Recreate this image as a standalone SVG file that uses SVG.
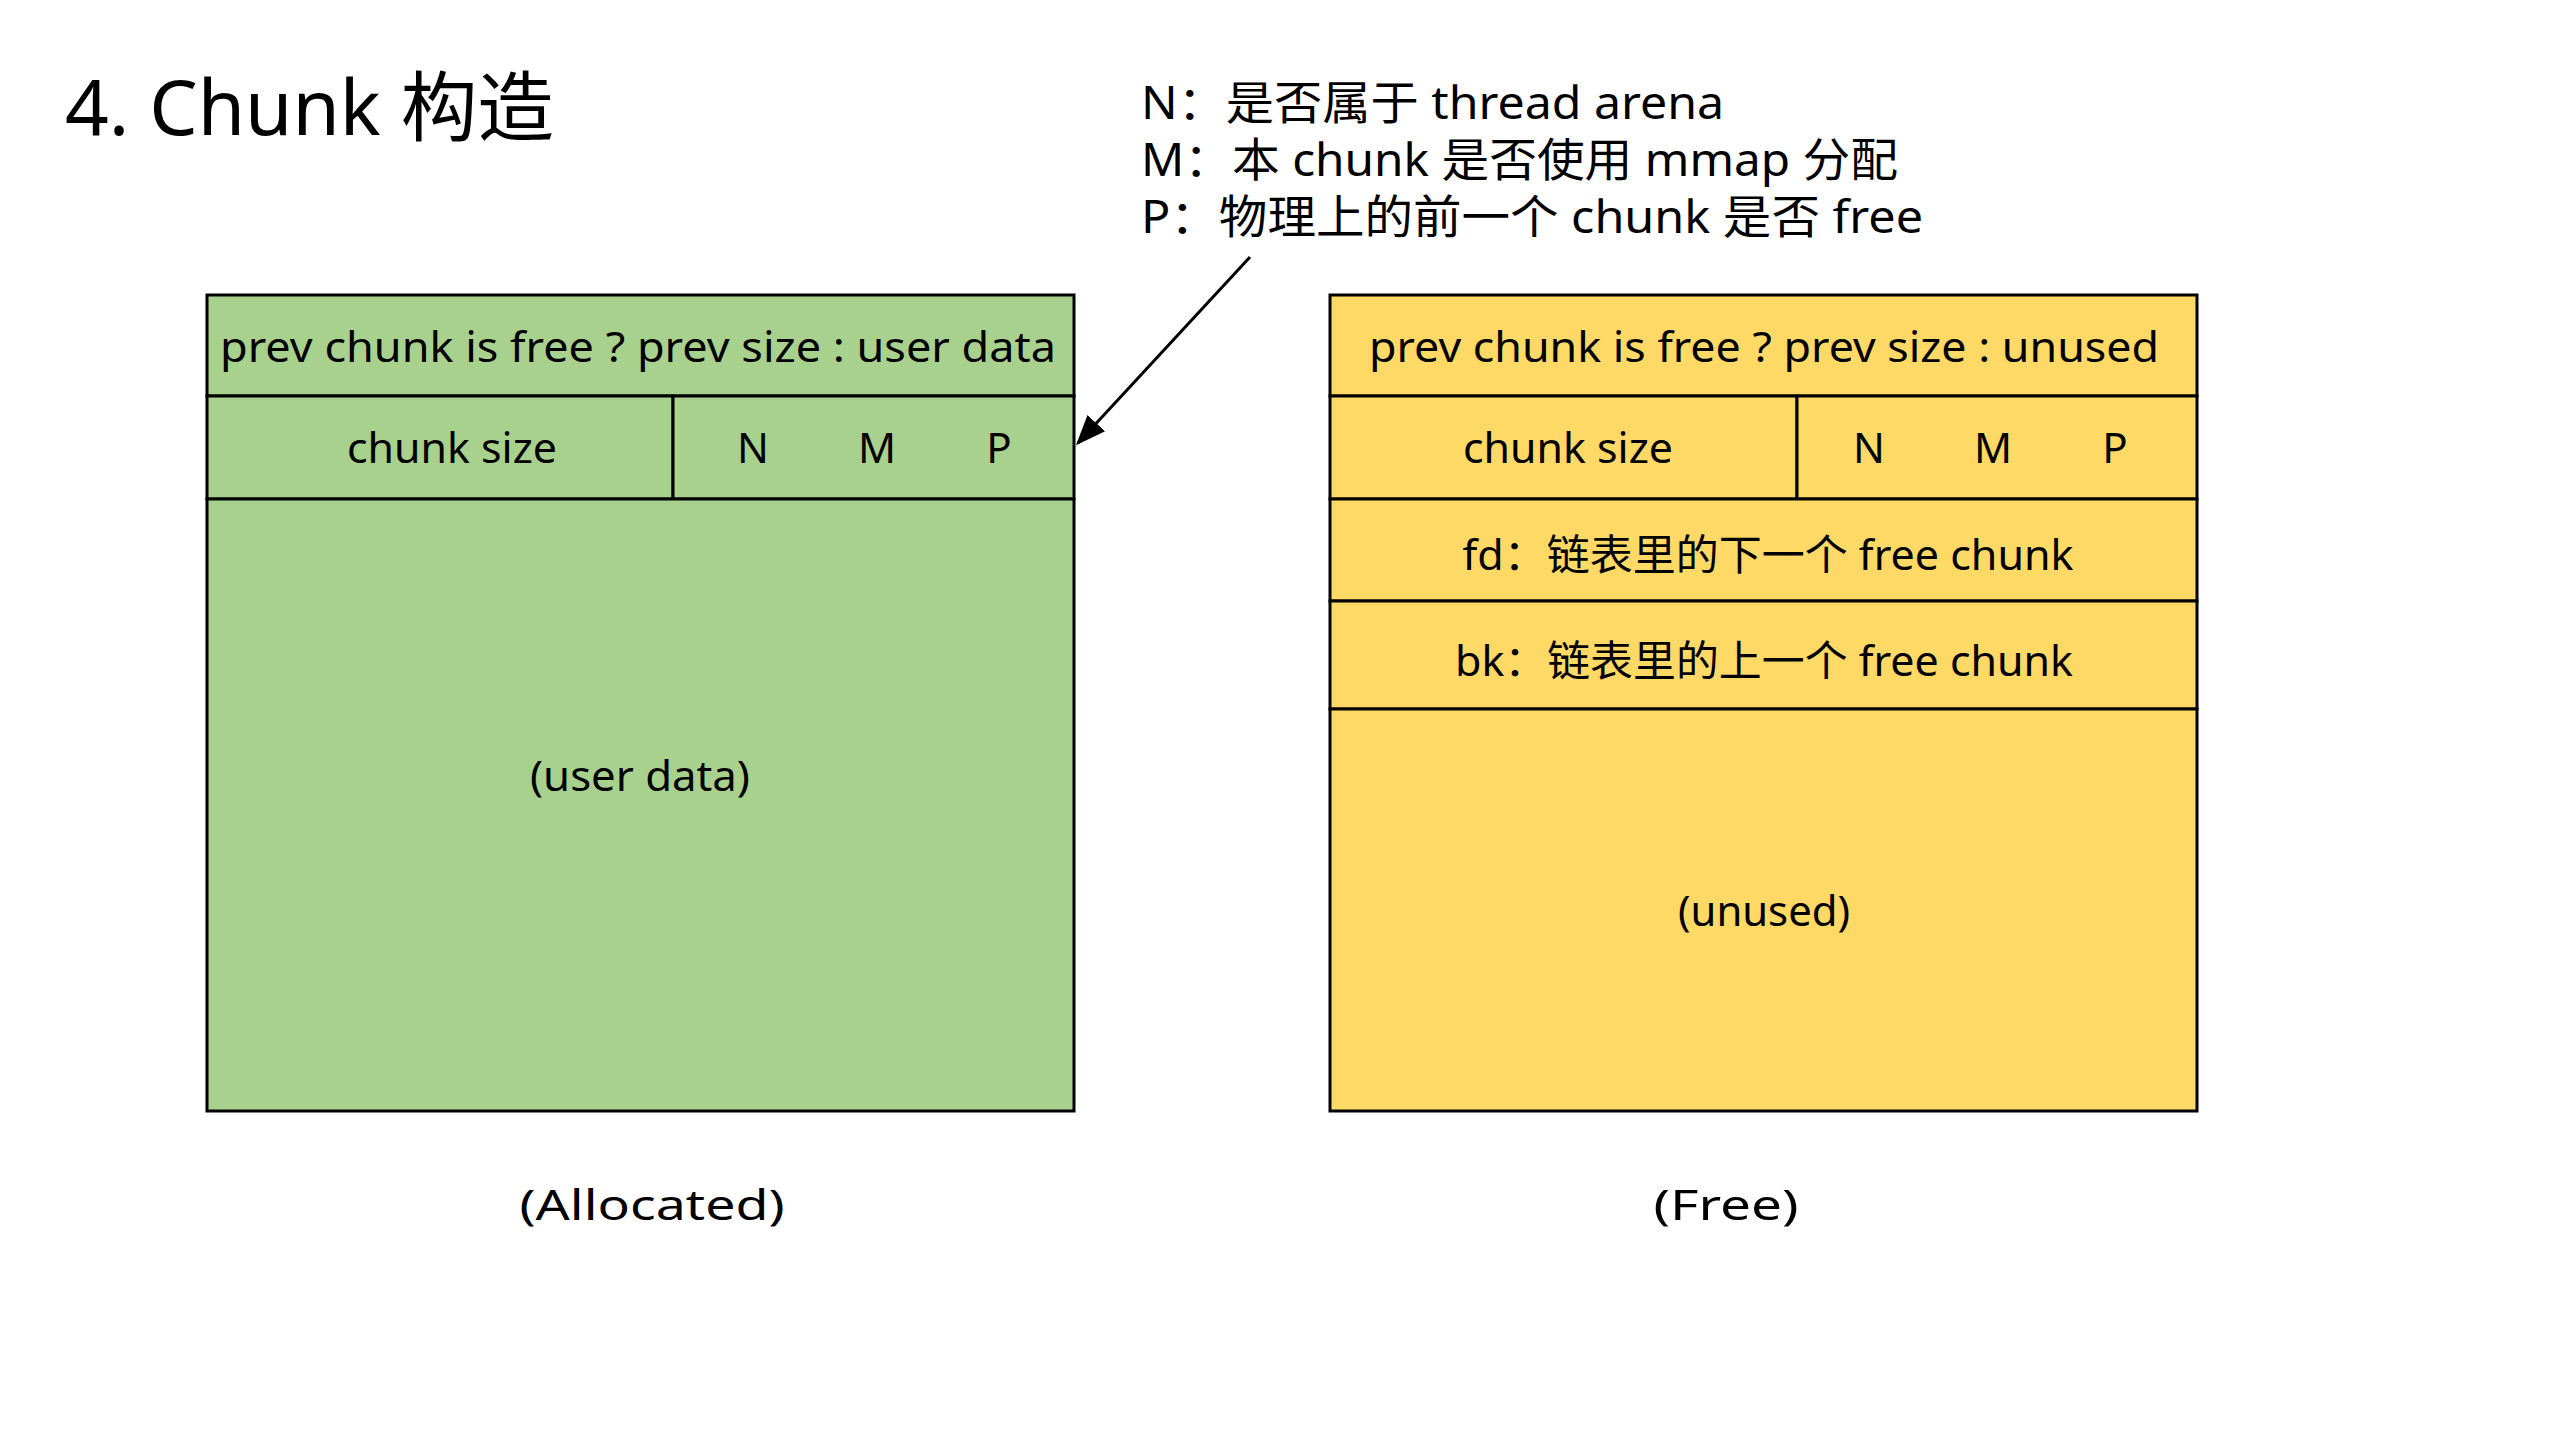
<svg xmlns="http://www.w3.org/2000/svg" width="2555" height="1436" viewBox="0 0 2555 1436">
<style>
text{font-family:"Noto Sans","Noto Sans CJK SC",sans-serif;fill:#000}
.c{text-anchor:middle;dominant-baseline:central;font-size:42px}
.lg{font-size:46px;dominant-baseline:central}
.cell{stroke:#000;stroke-width:3}
.g{fill:#A9D18E}
.y{fill:#FFD966}
</style>
<defs>
<marker id="ah" markerWidth="10" markerHeight="10" refX="9" refY="5" orient="auto" markerUnits="strokeWidth"><path d="M0,1 L10,5 L0,9 z" fill="#000"/></marker>
</defs>
<rect width="2555" height="1436" fill="#fff"/>
<text x="65" y="105" font-size="76" dominant-baseline="central" textLength="489" lengthAdjust="spacingAndGlyphs">4. Chunk 构造</text>
<g id="legend">
<text class="lg" x="1141" y="101" textLength="583" lengthAdjust="spacingAndGlyphs">N：是否属于 thread arena</text>
<text class="lg" x="1141" y="158" textLength="757" lengthAdjust="spacingAndGlyphs">M：本 chunk 是否使用 mmap 分配</text>
<text class="lg" x="1141" y="215" textLength="782" lengthAdjust="spacingAndGlyphs">P：物理上的前一个 chunk 是否 free</text>
</g>
<g id="allocated">
<rect class="cell g" x="207" y="295" width="867" height="101"/>
<rect class="cell g" x="207" y="396" width="466" height="103"/>
<rect class="cell g" x="673" y="396" width="401" height="103"/>
<rect class="cell g" x="207" y="499" width="867" height="612"/>
<text class="c" x="638" y="345" textLength="836" lengthAdjust="spacingAndGlyphs">prev chunk is free ? prev size : user data</text>
<text class="c" x="452" y="446" textLength="210" lengthAdjust="spacingAndGlyphs">chunk size</text>
<text class="c" x="753" y="446">N</text>
<text class="c" x="877" y="446">M</text>
<text class="c" x="999" y="446">P</text>
<text class="c" x="640" y="774" textLength="220" lengthAdjust="spacingAndGlyphs">(user data)</text>
<text class="c" x="652" y="1203" font-size="50" textLength="265" lengthAdjust="spacingAndGlyphs">(Allocated)</text>
</g>
<g id="free">
<rect class="cell y" x="1330" y="295" width="867" height="101"/>
<rect class="cell y" x="1330" y="396" width="467" height="103"/>
<rect class="cell y" x="1797" y="396" width="400" height="103"/>
<rect class="cell y" x="1330" y="499" width="867" height="102"/>
<rect class="cell y" x="1330" y="601" width="867" height="108"/>
<rect class="cell y" x="1330" y="709" width="867" height="402"/>
<text class="c" x="1764" y="345" textLength="790" lengthAdjust="spacingAndGlyphs">prev chunk is free ? prev size : unused</text>
<text class="c" x="1568" y="446" textLength="210" lengthAdjust="spacingAndGlyphs">chunk size</text>
<text class="c" x="1869" y="446">N</text>
<text class="c" x="1993" y="446">M</text>
<text class="c" x="2115" y="446">P</text>
<text class="c" x="1768" y="553" textLength="611" lengthAdjust="spacingAndGlyphs">fd：链表里的下一个 free chunk</text>
<text class="c" x="1764" y="659" textLength="618" lengthAdjust="spacingAndGlyphs">bk：链表里的上一个 free chunk</text>
<text class="c" x="1764" y="909" textLength="172" lengthAdjust="spacingAndGlyphs">(unused)</text>
<text class="c" x="1726" y="1203" font-size="50" textLength="145" lengthAdjust="spacingAndGlyphs">(Free)</text>
</g>
<g id="connectors">
<line x1="1250" y1="257" x2="1078" y2="443" stroke="#000" stroke-width="3" marker-end="url(#ah)"/>
</g>
</svg>
